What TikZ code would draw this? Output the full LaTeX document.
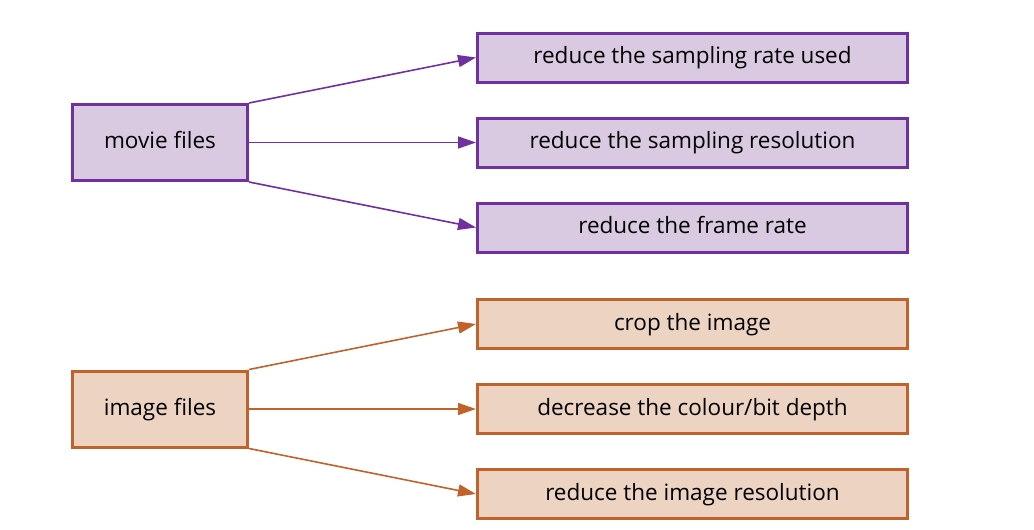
\documentclass[tikz,border=0pt]{standalone}
\usepackage{fontspec}
\setmainfont{Open Sans}
\usepackage{tikz}
\usetikzlibrary{arrows.meta}
\usetikzlibrary{positioning}

\definecolor{movieline}{HTML}{7030A0}
\definecolor{moviefill}{HTML}{D9C9E1}
\definecolor{imageline}{HTML}{C0622A}
\definecolor{imagefill}{HTML}{EDD3C1}

\tikzset{
  filebox/.style={draw, line width=3pt, minimum width=175pt, minimum height=76pt,
    inner sep=0pt, text height=16pt, text depth=4pt,
    font=\fontsize{22.5pt}{26pt}\selectfont},
  waybox/.style={draw, line width=3pt, minimum width=430pt, minimum height=49pt,
    inner sep=0pt, text height=16pt, text depth=4pt,
    font=\fontsize{22.5pt}{26pt}\selectfont},
  movie/.style={draw=movieline, fill=moviefill},
  image/.style={draw=imageline, fill=imagefill},
  link/.style={line width=1.6pt, -{Triangle[length=18pt,width=12pt]}},
}

\begin{document}
\begin{tikzpicture}[x=1pt, y=-1pt, node distance=33pt]
    \useasboundingbox (0,0) rectangle (1034,530);
    % movie files
    \node [filebox, movie] (mf) at (160,142.5) {movie files};
    \node [waybox, movie] (m2) at (692.5,142.5) {reduce the sampling resolution};
    \node [waybox, movie, above=of m2] (m1) {reduce the sampling rate used};
    \node [waybox, movie, below=of m2] (m3) {reduce the frame rate};
    \draw [link, movieline] (mf.north east) -- (m1.west);
    \draw [link, movieline] (mf.east) -- (m2.west);
    \draw [link, movieline] (mf.south east) -- (m3.west);
    % image files
    \node [filebox, image] (if) at (160,409) {image files};
    \node [waybox, image] (i2) at (692.5,409) {decrease the colour/bit depth};
    \node [waybox, image, above=of i2] (i1) {crop the image};
    \node [waybox, image, below=of i2] (i3) {reduce the image resolution};
    \draw [link, imageline] (if.north east) -- (i1.west);
    \draw [link, imageline] (if.east) -- (i2.west);
    \draw [link, imageline] (if.south east) -- (i3.west);
  \end{tikzpicture}
\end{document}
